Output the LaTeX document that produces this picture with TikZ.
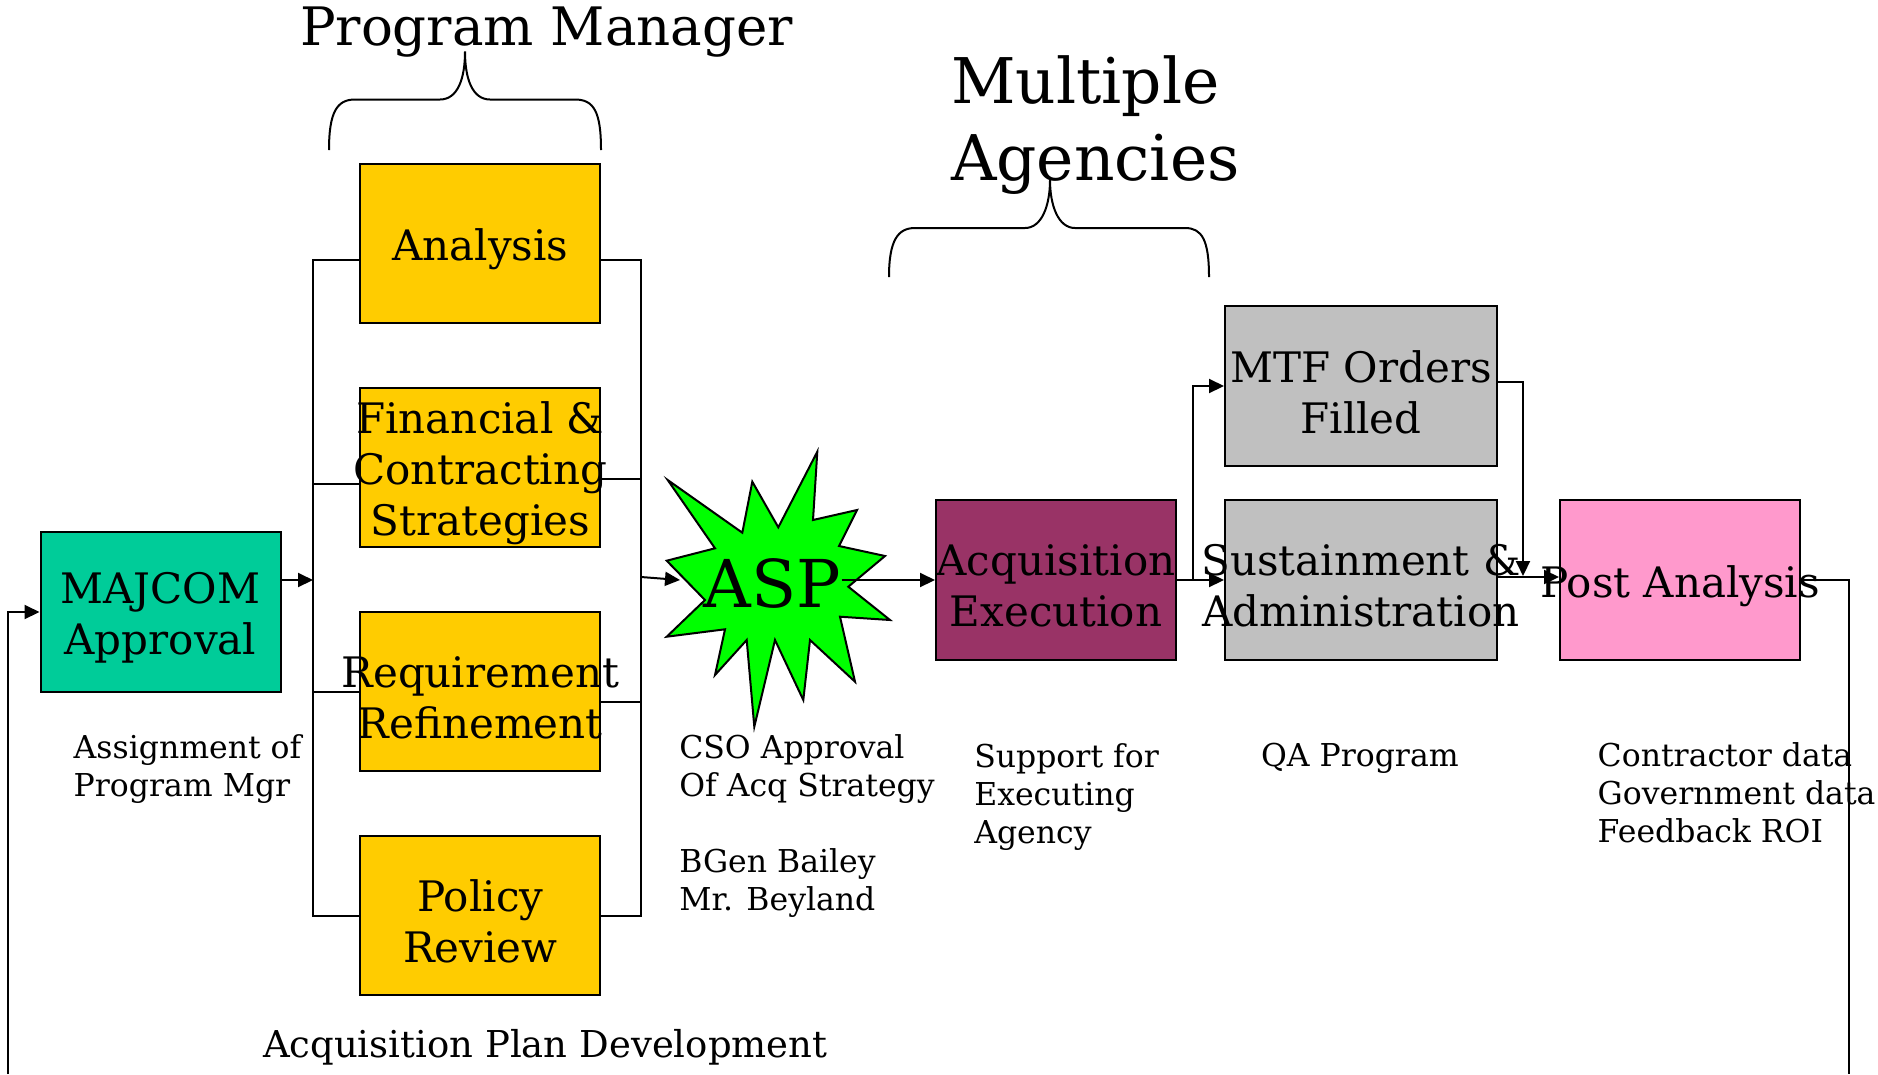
\documentclass[tikz,border=0pt]{standalone}
\usepackage{fontspec}
\setmainfont{DejaVu Serif}
\usetikzlibrary{positioning,arrows.meta}

\definecolor{majcomgreen}{HTML}{00CC99}
\definecolor{planyellow}{HTML}{FFCC00}
\definecolor{burstgreen}{HTML}{00FF00}
\definecolor{execpurple}{HTML}{993366}
\definecolor{sustgray}{HTML}{C0C0C0}
\definecolor{postpink}{HTML}{FF99CC}

\newcommand\boxtextfont{\fontsize{42}{51}\selectfont}
\newcommand\notefont{\fontsize{31.5}{38}\selectfont}
\newcommand\planfont{\fontsize{37}{44}\selectfont}
\newcommand\aspfont{\fontsize{66}{78}\selectfont}
\newcommand\pmfont{\fontsize{53}{64}\selectfont}
\newcommand\agencyfont{\fontsize{63}{77}\selectfont}

\begin{document}
\begin{tikzpicture}[x=1pt, y=-1pt, line width=2pt,
        basebox/.style={rectangle, draw, minimum width=240pt, minimum height=160pt, inner sep=0pt},
        cmdbox/.style={basebox, fill=majcomgreen},
        planbox/.style={basebox, fill=planyellow, minimum height=159pt},
        execbox/.style={basebox, fill=execpurple},
        sustbox/.style={basebox, fill=sustgray, minimum width=272pt},
        postbox/.style={basebox, fill=postpink},
        note/.style={anchor=base west, align=left, font=\notefont, inner sep=0pt},
        heading/.style={anchor=base west, align=left, inner sep=0pt},
        arrow/.style={-{Triangle[length=15pt, width=14pt]}},
        every label/.style={align=center, font=\boxtextfont, yshift=-6pt}
    ]
    \useasboundingbox (0,0) rectangle (1878,1074);

    % Approval and plan development
    \node[cmdbox, label={center:MAJCOM\\Approval}] (majcom) at (160.5,612) {};
    \node[planbox, label={center:Analysis}] (analysis) at (480.25,243.5) {};
    \node[planbox, below=63pt of analysis, label={center:Financial \&\\Contracting\\Strategies}] (fin) {};
    \node[planbox, below=63pt of fin, label={center:Requirement\\Refinement}] (req) {};
    \node[planbox, below=63pt of req, label={center:Policy\\Review}] (policy) {};

    % ASP burst
    \draw[fill=burstgreen] (667.7,480) -- (742.3,532.7) -- (752.3,481.7) -- (778.3,527.3)
        -- (817.3,451.7) -- (813,520) -- (857,510) -- (839,546) -- (885,556) -- (848.3,586.7)
        -- (890,620) -- (840,616.7) -- (855,681.7) -- (810,640) -- (803.3,700) -- (775,640)
        -- (754.3,726.7) -- (746.7,640) -- (715,675) -- (725,629.3) -- (666.7,636.7)
        -- (705,600) -- (666.7,560.7) -- (715,548.3) -- cycle;
    \node[font=\aspfont, inner sep=0pt] (asp) at (772,583) {ASP};

    % Execution and follow-up
    \node[execbox, label={center:Acquisition\\Execution}] (acq) at (1056,580) {};
    \node[sustbox, right=47pt of acq, label={center:Sustainment \&\\Administration}] (sust) {};
    \node[sustbox, above=32pt of sust, label={center:MTF Orders\\Filled}] (mtf) {};
    \node[postbox, right=61pt of sust, label={center:Post Analysis}] (post) {};

    % Notes (anchored on the last line)
    \node[note] (assign) at (72.7,796.3) {Assignment of\\Program Mgr};
    \node[note] (cso) at (678.3,910) {CSO Approval\\Of Acq Strategy\\[38pt]BGen Bailey\\Mr. Beyland};
    \node[note] (support) at (973.3,843.3) {Support for\\Executing\\Agency};
    \node[note] (qa) at (1260,766.7) {QA Program};
    \node[note] (data) at (1596.7,842) {Contractor data\\Government data\\Feedback ROI};
    \node[heading, font=\planfont] (plandev) at (262,1057) {Acquisition Plan Development};
    \node[heading, font=\pmfont] (pm) at (299,45) {Program Manager};
    \node[heading, font=\agencyfont] (agencies) at (950,180) {Multiple\\Agencies};

    % Braces
    \draw (329,150) .. controls (329,112) and (337,99.5) .. (355,99.5) -- (440,99.5)
        .. controls (458,99.5) and (465,78) .. (465,51.5) .. controls (465,78) and (472,99.5) .. (490,99.5)
        -- (575,99.5) .. controls (594,99.5) and (601,112) .. (601,150);
    \draw (889,277) .. controls (889,240) and (898,228) .. (915,228) -- (1025,228)
        .. controls (1042,228) and (1050,205) .. (1050,180) .. controls (1050,205) and (1058,228) .. (1075,228)
        -- (1185,228) .. controls (1202,228) and (1209,240) .. (1209,277);

    % Bus coordinates and loop ends
    \coordinate (lbus) at (313,580);
    \coordinate (rbus) at (641,577);
    \coordinate (aspin) at (680,580);
    \coordinate (merge) at (1523,576);
    \coordinate (loopl) at (8,1074);
    \coordinate (loopr) at (1849,1074);

    % Relationships
    \draw[arrow] ([yshift=32pt]majcom.east) -- (lbus);
    \draw ([yshift=-16pt]analysis.west) -| (lbus) |- (policy.west);
    \draw ([yshift=-16pt]fin.west) -- ([yshift=-16pt]fin.west -| lbus);
    \draw (req.west) -- (req.west -| lbus);
    \draw ([yshift=-16pt]analysis.east) -| (rbus) |- (policy.east);
    \draw ([yshift=-11pt]fin.east) -- ([yshift=-11pt]fin.east -| rbus);
    \draw ([yshift=-10pt]req.east) -- ([yshift=-10pt]req.east -| rbus);
    \draw[arrow] (rbus) -- (aspin);
    \draw[arrow] ([yshift=3pt]asp.east) -- (acq.west);
    \draw[arrow] (acq.east) -- (sust.west);
    \draw[arrow] ([xshift=16pt]acq.east) |- (mtf.west);
    \draw[arrow] ([yshift=4pt]mtf.east) -| (merge);
    \draw[arrow] ([yshift=3pt]sust.east) -- ([yshift=3pt]post.west);
    \draw (post.east) -| (loopr);
    \draw[arrow] (loopl) |- (majcom.west);

\end{tikzpicture}
\end{document}
